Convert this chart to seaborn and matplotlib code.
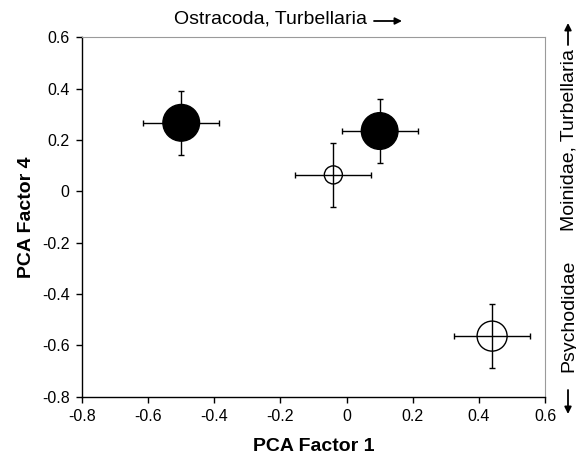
import matplotlib
matplotlib.use("Agg")
import matplotlib.pyplot as plt
import numpy as np
import pandas as pd
import seaborn as sns

# PCA factor scores (mean +/- error) per group
groups = ["A", "B", "C", "D"]
factor1 = [-0.50, 0.10, -0.04, 0.44]
factor4 = [0.267, 0.235, 0.064, -0.564]
factor1_err = [0.115, 0.115, 0.115, 0.115]
factor4_err = [0.125, 0.125, 0.125, 0.125]
fill = ["filled", "filled", "open", "open"]

x_ticks = [-0.8, -0.6, -0.4, -0.2, 0, 0.2, 0.4, 0.6]
y_ticks = [-0.8, -0.6, -0.4, -0.2, 0, 0.2, 0.4, 0.6]

df = pd.DataFrame({"group": groups, "f1": factor1, "f4": factor4, "fill": fill})

sns.set_style("white")
plt.rcParams["font.family"] = ["Liberation Sans", "DejaVu Sans"]
plt.rcParams["text.color"] = "black"
plt.rcParams["axes.labelcolor"] = "black"
plt.rcParams["xtick.color"] = "black"
plt.rcParams["ytick.color"] = "black"

W, H = 576, 463
fig = plt.figure(figsize=(W / 100, H / 100), dpi=100)
ax = fig.add_axes([0.1424, 0.1432, 0.8038, 0.7762])

marker_area = {"A": 697, "B": 697, "C": 169, "D": 467}
sns.scatterplot(
    data=df,
    x="f1",
    y="f4",
    hue="fill",
    palette={"filled": "black", "open": "white"},
    size="group",
    sizes=marker_area,
    edgecolor="black",
    linewidth=1.0,
    legend=False,
    ax=ax,
    zorder=2,
)
ax.errorbar(
    df["f1"],
    df["f4"],
    xerr=factor1_err,
    yerr=factor4_err,
    fmt="none",
    ecolor="black",
    elinewidth=1.0,
    capsize=2.4,
    capthick=1.0,
    zorder=3,
)

ax.set_xlim(-0.8, 0.6)
ax.set_ylim(-0.8, 0.6)
ax.set_xticks(x_ticks)
ax.set_yticks(y_ticks)
ax.set_xticklabels(["0" if v == 0 else f"{v:g}" for v in x_ticks])
ax.set_yticklabels(["0" if v == 0 else f"{v:g}" for v in y_ticks])
ax.tick_params(axis="both", direction="out", length=4, width=1, color="black",
               labelcolor="black", labelsize=11.5, pad=5, bottom=True, left=True)

for side in ["left", "bottom"]:
    ax.spines[side].set_color("black")
    ax.spines[side].set_linewidth(1.0)
for side in ["top", "right"]:
    ax.spines[side].set_color("#9a9a9a")
    ax.spines[side].set_linewidth(0.8)

ax.set_xlabel("PCA Factor 1", fontsize=14, fontweight="bold", labelpad=10)
ax.set_ylabel("PCA Factor 4", fontsize=14, fontweight="bold", labelpad=5)


def px(x, y):
    # pixel (from top-left) -> figure fraction
    return (x / W, 1 - y / H)


arrow_kw = dict(arrowstyle="-|>", color="black", lw=1.3,
                mutation_scale=10, shrinkA=0, shrinkB=0)

# top annotation
fig.text(*px(270, 19), "Ostracoda, Turbellaria", ha="center", va="center",
         fontsize=14)
ax.annotate("", xy=px(402, 21), xytext=px(374, 21), xycoords="figure fraction",
            textcoords="figure fraction", arrowprops=arrow_kw,
            annotation_clip=False)

# right annotations
fig.text(*px(569, 140), "Moinidae, Turbellaria", rotation=90,
         ha="center", va="center", fontsize=14)
ax.annotate("", xy=px(568, 23), xytext=px(568, 45), xycoords="figure fraction",
            textcoords="figure fraction", arrowprops=arrow_kw,
            annotation_clip=False)
fig.text(*px(569, 316), "Psychodidae", rotation=90,
         ha="center", va="center", fontsize=14)
ax.annotate("", xy=px(568, 414), xytext=px(568, 390), xycoords="figure fraction",
            textcoords="figure fraction", arrowprops=arrow_kw,
            annotation_clip=False)

fig.savefig("out.png", dpi=100, facecolor="white")
